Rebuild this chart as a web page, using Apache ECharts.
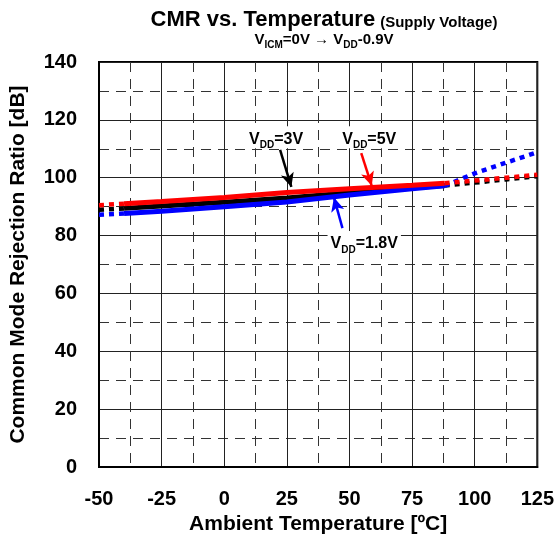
<!DOCTYPE html>
<html><head><meta charset="utf-8">
<script src="https://cdn.jsdelivr.net/npm/echarts@6/dist/echarts.min.js"></script>
<style>html,body{margin:0;padding:0;background:#fff}#c{width:557px;height:545px}</style>
</head><body><div id="c"></div>
<script>
// Temperatures (°C)
const tempLow = [-50, -40];
const tempMain = [-40, -25, 0, 25, 50, 75, 88];
const tempHigh = [88, 100, 112.5, 125];
// CMR (dB) per supply voltage
const low5V = [90.5, 91.0];
const main5V = [91.0, 91.8, 93.2, 94.9, 96.2, 97.4, 98.1];
const high5V = [98.1, 99.0, 100.0, 101.0];
const low3V = [88.9, 89.4];
const main3V = [89.4, 90.2, 91.5, 93.0, 94.8, 96.5, 97.3];
const high3V = [97.3, 98.3, 99.4, 100.5];
const low18V = [87.2, 87.6];
const main18V = [87.6, 88.4, 90.0, 91.6, 94.0, 96.2, 97.2];
const high18V = [97.2, 101.5, 105.2, 108.8];
// axis ticks
const xTicks = [-50, -25, 0, 25, 50, 75, 100, 125];
const yTicks = [0, 20, 40, 60, 80, 100, 120, 140];
// annotations: label anchor and arrow [from, to] in data coords
const lbl3V = [20.7, 114]; const arr3V = [[22.3, 109.6], [26.8, 96.8]];
const lbl5V = [57.9, 114]; const arr5V = [[54.7, 108.5], [58.9, 97.2]];
const lbl18V = [55.9, 77.8]; const arr18V = [[47.2, 82.6], [43.8, 93.2]];

const FONT = 'Liberation Sans, Arial, sans-serif';
const pts = (xs, ys) => xs.map((x, i) => [x, ys[i]]);
const richLbl = {
  v: {fontSize: 16, fontWeight: 'bold', color: '#000', fontFamily: FONT, lineHeight: 20, verticalAlign: 'bottom'},
  s: {fontSize: 10, fontWeight: 'bold', color: '#000', fontFamily: FONT, lineHeight: 20, verticalAlign: 'bottom', padding: [0,0,-3,0]}
};
function labelPoint(coord, text) {
  return {
    symbol: 'rect', symbolSize: 1, itemStyle: {color: 'rgba(0,0,0,0)'},
    label: {show: true, position: 'inside', formatter: text, rich: richLbl,
      backgroundColor: '#fff', padding: [1, 3, 1, 3]},
    data: [{coord: coord}]
  };
}
function arrow(a, color) {
  return {
    silent: true, symbol: ['none', 'arrow'], symbolSize: [10, 14],
    lineStyle: {color: color, width: 2.5, type: 'solid'},
    label: {show: false},
    data: [[{coord: a[0]}, {coord: a[1]}]]
  };
}
function seg(name, xs, ys, color, dashed, extra) {
  return Object.assign({
    name: name, type: 'line', data: pts(xs, ys), symbol: 'none', smooth: false,
    lineStyle: {color: color, width: dashed ? 4.5 : 5, type: dashed ? [5, 5] : 'solid', cap: 'butt'},
    animation: false, silent: true
  }, extra || {});
}
const series = [
  seg('3V low', tempLow, low3V, '#000', true),
  seg('3V', tempMain, main3V, '#000', false, {markPoint: labelPoint(lbl3V, '{v|V}{s|DD}{v|=3V}'), markLine: arrow(arr3V, '#000')}),
  seg('3V high', tempHigh, high3V, '#000', true),
  seg('1.8V low', tempLow, low18V, '#0000ff', true),
  seg('1.8V', tempMain, main18V, '#0000ff', false, {markPoint: labelPoint(lbl18V, '{v|V}{s|DD}{v|=1.8V}'), markLine: arrow(arr18V, '#0000ff')}),
  seg('1.8V high', tempHigh, high18V, '#0000ff', true),
  seg('5V low', tempLow, low5V, '#ff0000', true),
  seg('5V', tempMain, main5V, '#ff0000', false, {markPoint: labelPoint(lbl5V, '{v|V}{s|DD}{v|=5V}'), markLine: arrow(arr5V, '#ff0000')}),
  seg('5V high', tempHigh, high5V, '#ff0000', true)
];

const chart = echarts.init(document.getElementById('c'), null, {renderer: 'canvas'});
chart.setOption({
  backgroundColor: '#fff',
  animation: false,
  title: {
    left: 319, top: 0, textAlign: 'center', itemGap: 2,
    text: '{a|CMR vs. Temperature} {b|(Supply Voltage)}',
    textStyle: {rich: {
      a: {fontSize: 22, fontWeight: 'bold', fontFamily: FONT, color: '#000', lineHeight: 26, verticalAlign: 'bottom'},
      b: {fontSize: 15, fontWeight: 'bold', fontFamily: FONT, color: '#000', lineHeight: 26, verticalAlign: 'bottom', padding: [0,0,1,0]}
    }},
    subtext: '{v|V}{s|ICM}{v|=0V → V}{s|DD}{v|-0.9V}',
    subtextStyle: {rich: {
      v: {fontSize: 15, fontWeight: 'bold', fontFamily: FONT, color: '#000', lineHeight: 18, verticalAlign: 'bottom'},
      s: {fontSize: 10, fontWeight: 'bold', fontFamily: FONT, color: '#000', lineHeight: 18, verticalAlign: 'bottom', padding: [0,0,-3,0]}
    }}
  },
  grid: {left: 98, top: 62, right: 16, bottom: 78, show: true, borderColor: '#000', borderWidth: 2, backgroundColor: '#fff'},
  xAxis: {
    type: 'value', min: xTicks[0], max: xTicks[xTicks.length - 1], interval: 25,
    name: 'Ambient Temperature [ºC]', nameLocation: 'middle', nameGap: 47,
    nameTextStyle: {fontSize: 21, fontWeight: 'bold', fontFamily: FONT, color: '#000'},
    axisLine: {show: true, onZero: false, lineStyle: {color: '#000', width: 2}},
    axisTick: {show: false},
    axisLabel: {margin: 22, fontSize: 20, fontWeight: 'bold', fontFamily: FONT, color: '#000',
      formatter: v => xTicks.includes(v) ? String(v) : ''},
    splitLine: {show: true, lineStyle: {color: '#222', width: 1}},
    minorTick: {show: false, splitNumber: 2},
    minorSplitLine: {show: true, lineStyle: {color: '#333', width: 1, type: [10, 7]}}
  },
  yAxis: {
    type: 'value', min: yTicks[0], max: yTicks[yTicks.length - 1], interval: 20,
    name: 'Common Mode Rejection Ratio [dB]', nameLocation: 'middle', nameGap: 70, nameRotate: 90,
    nameTextStyle: {fontSize: 21, fontWeight: 'bold', fontFamily: FONT, color: '#000'},
    axisLine: {show: true, onZero: false, lineStyle: {color: '#000', width: 2}},
    axisTick: {show: false},
    axisLabel: {margin: 22, fontSize: 20, fontWeight: 'bold', fontFamily: FONT, color: '#000'},
    splitLine: {show: true, lineStyle: {color: '#222', width: 1}},
    minorTick: {show: false, splitNumber: 2},
    minorSplitLine: {show: true, lineStyle: {color: '#333', width: 1, type: [10, 7]}}
  },
  series: series
});
</script>
</body></html>
